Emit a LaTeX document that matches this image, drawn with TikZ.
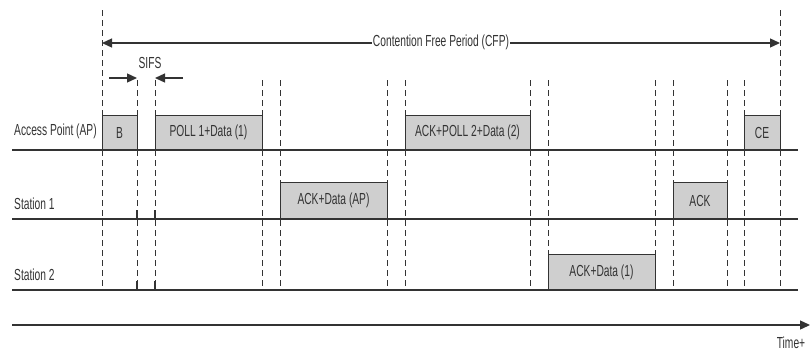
\documentclass[tikz,border=0pt]{standalone}
\usepackage{fontspec}
\setmainfont[FakeStretch=0.64]{Liberation Sans}
\usetikzlibrary{arrows.meta}
\definecolor{ink}{HTML}{333333}
\definecolor{boxgray}{HTML}{CFCFCF}
\begin{document}
\begin{tikzpicture}[x=1pt,y=-1pt,
  font=\fontsize{16}{18}\selectfont, text=ink,
  slot/.style={draw=ink, line width=1pt, fill=boxgray, inner sep=0pt},
  axis/.style={draw=ink, line width=1.3pt},
  guide/.style={draw=ink, line width=0.8pt, dash pattern=on 6pt off 4pt},
  tick/.style={draw=ink, line width=1.2pt},
  tip/.style={-{Triangle[length=10pt,width=9pt]}},
  lbl/.style={inner sep=0pt, anchor=west}
]
\useasboundingbox (0,0) rectangle (810,354);

% guide coordinates
\foreach \n/\x/\t in {a/102/10, b/137/80, c/155/80, d/262/80, e/280/80, f/387/80,
  g/405/80, h/530/80, i/548/80, j/655/80, k/673/80, l/727/80, m/744/80, n/780/10}{
  \coordinate (\n top) at (\x,\t);
  \coordinate (\n bot) at (\x,290);
  \draw[guide] (\n top) -- (\n bot);
}

% boxes
\node[slot, minimum width=35pt, minimum height=35pt] (B) at (119.5,132.5) {B};
\node[slot, minimum width=107pt, minimum height=35pt] (poll1) at (208.5,132.5) {POLL 1+Data (1)};
\node[slot, minimum width=125pt, minimum height=35pt] (poll2) at (467.5,132.5) {ACK+POLL 2+Data (2)};
\node[slot, minimum width=36pt, minimum height=35pt] (CE) at (762,132.5) {CE};
\node[slot, minimum width=107pt, minimum height=37pt] (ackap) at (333.5,200.5) {ACK+Data (AP)};
\node[slot, minimum width=54pt, minimum height=37pt] (ack) at (700,200.5) {ACK};
\node[slot, minimum width=107pt, minimum height=36pt] (ack1) at (601.5,272) {ACK+Data (1)};

% row labels
\node[lbl] (lap) at (14,131) {Access Point (AP)};
\node[lbl] (ls1) at (14,204) {Station 1};
\node[lbl] (ls2) at (14,275) {Station 2};

% row lines
\coordinate (apL) at (12,150); \coordinate (apR) at (798,150);
\coordinate (s1L) at (12,219); \coordinate (s1R) at (798,219);
\coordinate (s2L) at (12,290); \coordinate (s2R) at (798,290);
\coordinate (tL) at (12,325); \coordinate (tR) at (810,325);
\draw[axis] (apL) -- (apR);
\draw[axis] (s1L) -- (s1R);
\draw[axis] (s2L) -- (s2R);
\draw[axis, tip] (tL) -- (tR);
\node (time) at (791,343) {Time+};

% ticks on station lines
\foreach \x in {137,155}{
  \coordinate (u1) at (\x,210); \coordinate (u2) at (\x,219);
  \coordinate (v1) at (\x,281); \coordinate (v2) at (\x,290);
  \draw[tick] (u1) -- (u2);
  \draw[tick] (v1) -- (v2);
}

% CFP arrow
\coordinate (cfpL) at (102,43); \coordinate (cfpR) at (780,43);
\draw[axis, {Triangle[length=10pt,width=9pt]}-{Triangle[length=10pt,width=9pt]}] (cfpL) -- (cfpR);
\node[fill=white, inner sep=1pt] (cfp) at (441,42) {Contention Free Period (CFP)};

% SIFS
\node (sifs) at (150,63) {SIFS};
\coordinate (sa) at (109,78); \coordinate (sb) at (183,78);
\coordinate (sat) at (137,78); \coordinate (sbt) at (155,78);
\draw[axis, tip] (sa) -- (sat);
\draw[axis, tip] (sb) -- (sbt);
\end{tikzpicture}
\end{document}
